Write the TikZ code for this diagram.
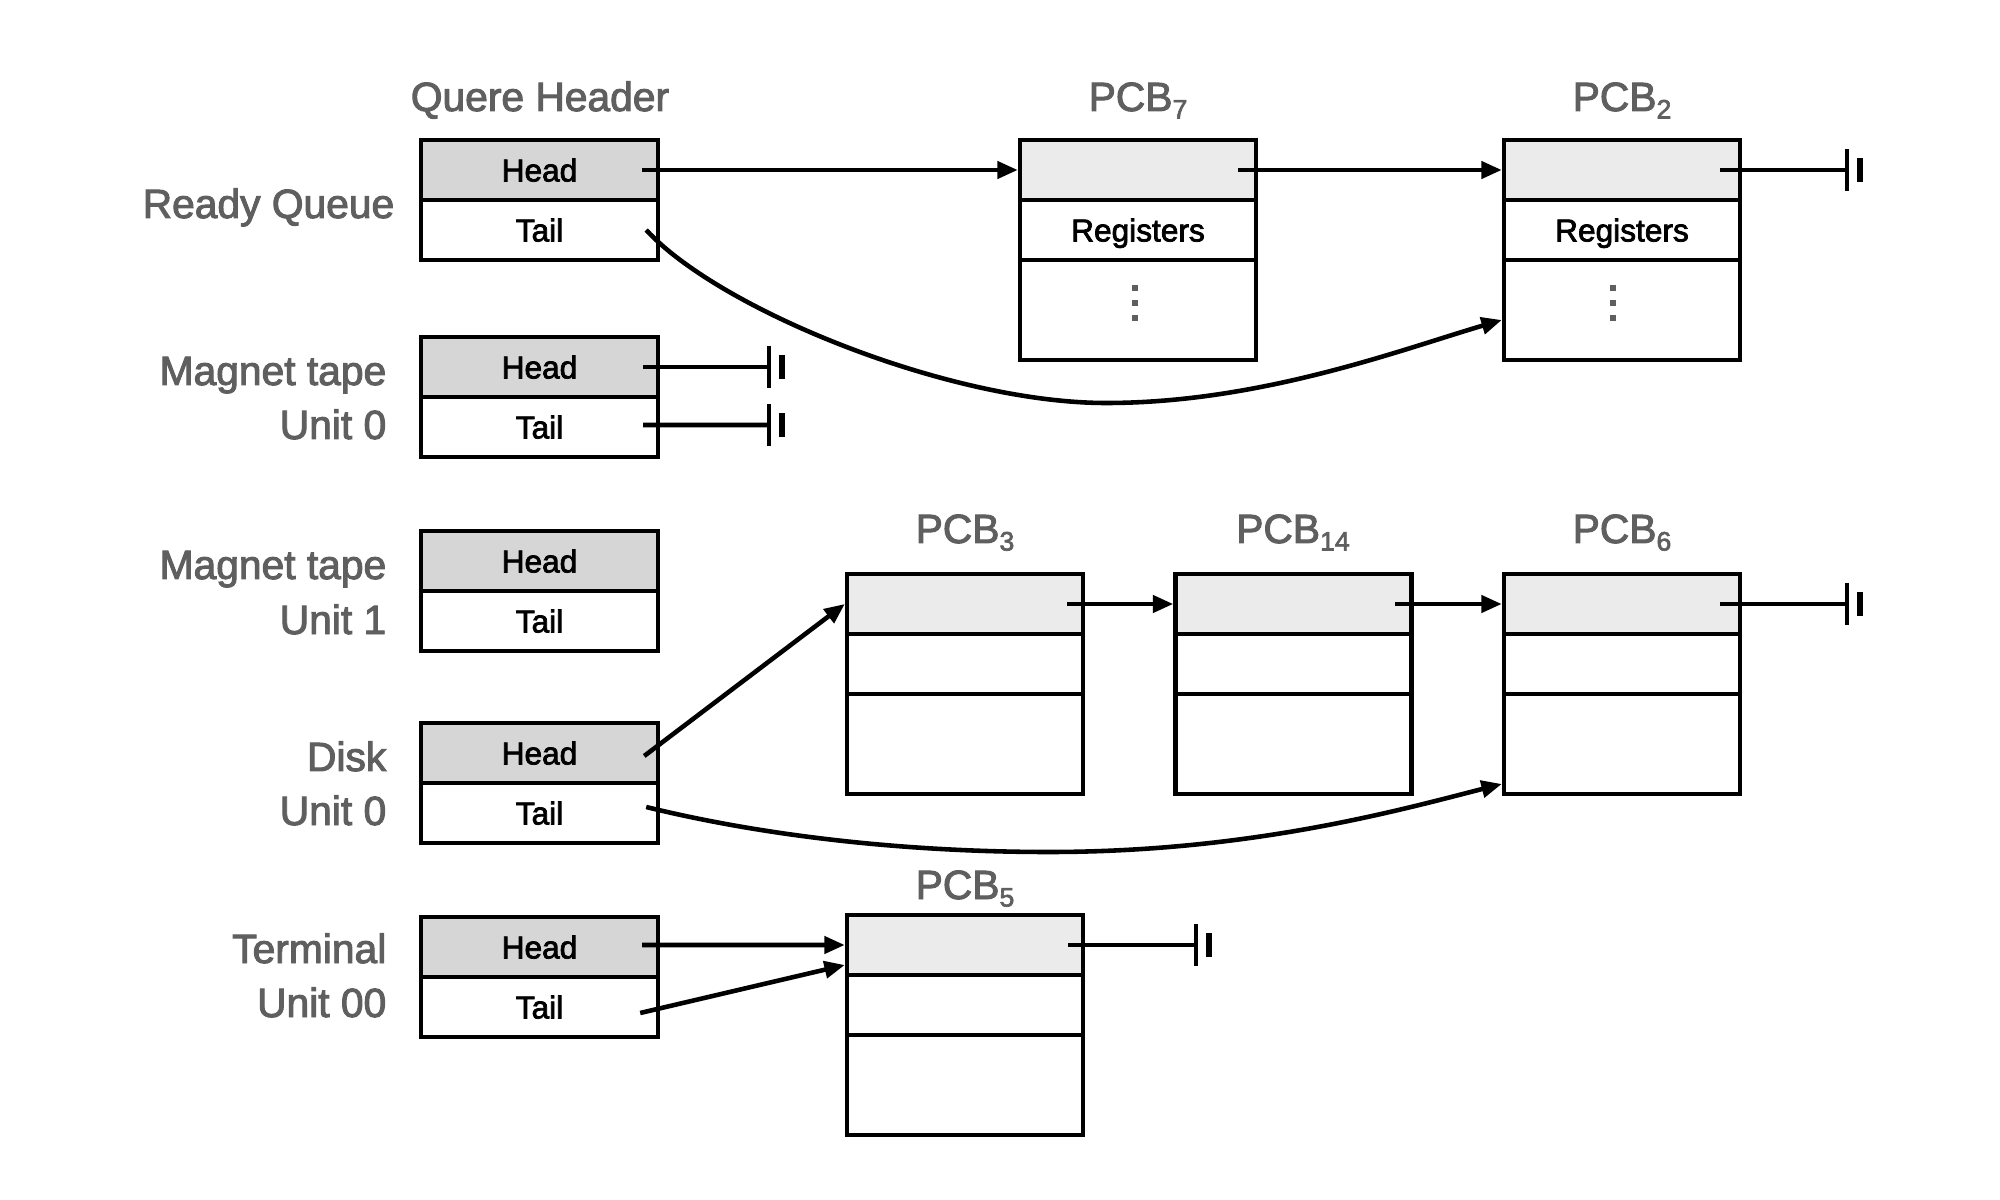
\documentclass[tikz,border=0pt]{standalone}
\usepackage{fontspec}
\setmainfont{Liberation Sans}
\newfontfamily\medfont[FakeBold=2.4]{Liberation Sans}
\usetikzlibrary{arrows.meta}
\definecolor{lblgrey}{HTML}{5F5F5F}
\definecolor{hgrey}{HTML}{D6D6D6}
\definecolor{pgrey}{HTML}{EBEBEB}
\newcommand\lblsize{\medfont\fontsize{11.6pt}{14pt}\selectfont}
\newcommand\boxsize{\medfont\fontsize{9pt}{11pt}\selectfont}
\newcommand\pcbsub[1]{\raisebox{-0.35ex}{\fontsize{7.6pt}{9pt}\selectfont #1}}
\newcommand\groundat[1]{%
  \draw[line width=1.4pt] ([yshift=2.1mm]#1) -- ([yshift=-2.1mm]#1);
  \draw[line width=1.7pt] ([xshift=1.3mm,yshift=1.2mm]#1) -- ([xshift=1.3mm,yshift=-1.2mm]#1);}
\begin{document}
\begin{tikzpicture}[x=0.1mm,y=-0.1mm,
  lbl/.style={font=\lblsize, text=lblgrey, inner sep=0pt},
  hcell/.style={draw, line width=1.25pt, minimum width=23.7mm, minimum height=6mm, inner sep=0pt, font=\boxsize, text height=6.5pt, text depth=0pt},
  hhead/.style={hcell, fill=hgrey},
  pcell/.style={draw, line width=1.25pt, minimum width=23.6mm, minimum height=6mm, inner sep=0pt, font=\boxsize, text height=6.5pt, text depth=0pt},
  ptop/.style={pcell, fill=pgrey},
  pbig/.style={pcell, minimum height=10mm},
  conn/.style={line width=1.3pt, -{Triangle[length=5.8pt,width=4.8pt]}},
  gline/.style={line width=1.3pt},
]
\useasboundingbox[fill=white] (0,0) rectangle (2000,1200);

% titles
\node[lbl, anchor=base] (tQH) at (540,111) {Quere Header};
\node[lbl, anchor=base] (t7) at (1138,111) {PCB\pcbsub{7}};
\node[lbl, anchor=base] (t2) at (1622,111) {PCB\pcbsub{2}};
\node[lbl, anchor=base] (t3) at (965,543) {PCB\pcbsub{3}};
\node[lbl, anchor=base] (t14) at (1293,543) {PCB\pcbsub{14}};
\node[lbl, anchor=base] (t6) at (1622,543) {PCB\pcbsub{6}};
\node[lbl, anchor=base] (t5) at (965,899) {PCB\pcbsub{5}};

% side labels
\node[lbl, anchor=base east] (lRQ) at (395,218) {Ready Queue};
\node[lbl, anchor=base east] (lM0a) at (387,385) {Magnet tape};
\node[lbl, anchor=base east] (lM0b) at (387,439) {Unit 0};
\node[lbl, anchor=base east] (lM1a) at (387,579) {Magnet tape};
\node[lbl, anchor=base east] (lM1b) at (387,634) {Unit 1};
\node[lbl, anchor=base east] (lDa) at (387,771) {Disk};
\node[lbl, anchor=base east] (lDb) at (387,825) {Unit 0};
\node[lbl, anchor=base east] (lTa) at (387,963) {Terminal};
\node[lbl, anchor=base east] (lTb) at (387,1017) {Unit 00};

% queue headers
\node[hhead] (rqH) at (539.5,170) {Head};
\node[hcell] (rqT) at (539.5,230) {Tail};
\node[hhead] (m0H) at (539.5,367) {Head};
\node[hcell] (m0T) at (539.5,427) {Tail};
\node[hhead] (m1H) at (539.5,561) {Head};
\node[hcell] (m1T) at (539.5,621) {Tail};
\node[hhead] (dH) at (539.5,753) {Head};
\node[hcell] (dT) at (539.5,813) {Tail};
\node[hhead] (tH) at (539.5,947) {Head};
\node[hcell] (tT) at (539.5,1007) {Tail};

% PCBs
\node[ptop] (p7a) at (1138,170) {};
\node[pcell] (p7b) at (1138,230) {Registers};
\node[pbig] (p7c) at (1138,310) {};
\node[ptop] (p2a) at (1622,170) {};
\node[pcell] (p2b) at (1622,230) {Registers};
\node[pbig] (p2c) at (1622,310) {};

\node[ptop] (p3a) at (965,604) {};
\node[pcell] (p3b) at (965,664) {};
\node[pbig] (p3c) at (965,744) {};
\node[ptop] (p14a) at (1293.5,604) {};
\node[pcell] (p14b) at (1293.5,664) {};
\node[pbig] (p14c) at (1293.5,744) {};
\node[ptop] (p6a) at (1622,604) {};
\node[pcell] (p6b) at (1622,664) {};
\node[pbig] (p6c) at (1622,744) {};

\node[ptop] (p5a) at (965,945) {};
\node[pcell] (p5b) at (965,1005) {};
\node[pbig] (p5c) at (965,1085) {};

% vertical dots
\foreach \yy in {285,300,315}{
  \fill[lblgrey] (1132,\yy) rectangle ++(6,6);
  \fill[lblgrey] (1610,\yy) rectangle ++(6,6);
}

% connectors
\draw[conn] ([xshift=-1.8mm]rqH.east) -- (p7a.west);
\draw[conn] ([xshift=-2mm]p7a.east) -- (p2a.west);
\draw[conn] ([xshift=-1.4mm]rqT.east) .. controls (720,310) and (950,403) .. (1106,403)
  .. controls (1260,403) and (1400,350) .. ([yshift=-1mm]p2c.west);

\draw[conn] ([xshift=-1.6mm,yshift=-0.3mm]dH.east) -- (p3a.west);
\draw[conn] ([xshift=-1.8mm]p3a.east) -- (p14a.west);
\draw[conn] ([xshift=-1.9mm]p14a.east) -- (p6a.west);
\draw[conn] ([xshift=-1.4mm,yshift=0.6mm]dT.east) .. controls (760,835) and (900,852) .. (1049,852)
  .. controls (1250,852) and (1400,810) .. ([yshift=-4mm]p6c.west);

\draw[conn] ([xshift=-1.8mm,yshift=0.2mm]tH.east) -- (p5a.west);
\draw[conn] ([xshift=-2mm,yshift=-0.6mm]tT.east) -- ([yshift=-2mm]p5a.west);

% grounds
\coordinate (g2) at (1847,170);
\draw[gline] ([xshift=-2.2mm]p2a.east) -- (g2);
\groundat{g2}
\coordinate (gm0h) at (769,367);
\draw[gline] ([xshift=-1.7mm]m0H.east) -- (gm0h);
\groundat{gm0h}
\coordinate (gm0t) at (769,425);
\draw[gline] ([xshift=-1.7mm,yshift=0.2mm]m0T.east) -- (gm0t);
\groundat{gm0t}
\coordinate (g6) at (1847,604);
\draw[gline] ([xshift=-2.2mm]p6a.east) -- (g6);
\groundat{g6}
\coordinate (g5) at (1196,945);
\draw[gline] ([xshift=-1.7mm]p5a.east) -- (g5);
\groundat{g5}
\end{tikzpicture}
\end{document}
